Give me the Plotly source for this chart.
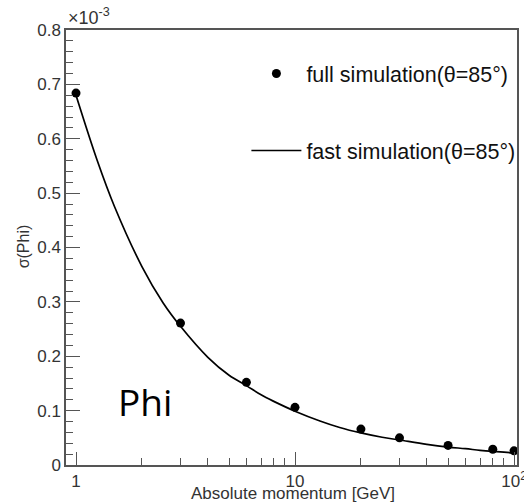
import plotly.graph_objects as go

# Full simulation points (sigma(Phi) in units of 1e-3)
full_p = [1, 3, 6, 10, 20, 30, 50, 80, 100]
full_sigma = [0.684, 0.261, 0.152, 0.106, 0.066, 0.050, 0.036, 0.029, 0.026]

# Fast simulation curve
fast_p = [1, 1.25, 1.5, 2, 2.5, 3, 4, 5, 6, 7, 8, 10, 13, 16, 20, 25, 30, 40, 50, 60, 70, 80, 90, 100]
fast_sigma = [0.680, 0.560, 0.475, 0.365, 0.298, 0.255, 0.198, 0.165, 0.146, 0.129, 0.117,
              0.099, 0.081, 0.069, 0.059, 0.051, 0.046, 0.038, 0.033, 0.030, 0.027, 0.025,
              0.0235, 0.022]

x_tickvals = [1, 10, 100]
x_ticktext = ["1", "10", "10<sup>2</sup>"]
x_minor = [2, 3, 4, 5, 6, 7, 8, 9, 20, 30, 40, 50, 60, 70, 80, 90]
y_tickvals = [0, 0.1, 0.2, 0.3, 0.4, 0.5, 0.6, 0.7, 0.8]
y_ticktext = ["0", "0.1", "0.2", "0.3", "0.4", "0.5", "0.6", "0.7", "0.8"]

FONT = "Liberation Sans, Arial, sans-serif"

fig = go.Figure()
fig.add_trace(go.Scatter(
    x=full_p, y=full_sigma, mode="markers",
    marker=dict(color="black", size=9),
    name="full simulation(θ=85°)", legendgroup="a"))
fig.add_trace(go.Scatter(
    x=fast_p, y=fast_sigma, mode="lines", line_shape="spline",
    line=dict(color="black", width=1.7),
    name="fast simulation(θ=85°)", legendgroup="b"))

fig.update_layout(
    width=524, height=503,
    margin=dict(l=66, r=7, t=30, b=38, autoexpand=False),
    paper_bgcolor="white", plot_bgcolor="white",
    font=dict(family=FONT, size=17, color="#333"),
    showlegend=True,
    legend=dict(x=0.40, y=0.947, xanchor="left", yanchor="top",
                font=dict(size=21.5, color="#111"),
                tracegroupgap=46, bgcolor="rgba(0,0,0,0)", itemwidth=50),
    xaxis=dict(type="log", range=[-0.0457, 2.0137], automargin=False,
               tickvals=x_tickvals, ticktext=x_ticktext, ticklabeloverflow="allow",
               ticks="inside", ticklen=13, tickcolor="#555", tickwidth=1.2,
               minor=dict(tickvals=x_minor, ticks="inside", ticklen=7, tickcolor="#555", tickwidth=1.2),
               showline=True, linecolor="#555", linewidth=1.5, mirror=True,
               showgrid=False, zeroline=False),
    yaxis=dict(range=[0, 0.8], automargin=False,
               tickvals=y_tickvals, ticktext=y_ticktext,
               ticks="inside", ticklen=14, tickcolor="#555", tickwidth=1.2,
               minor=dict(dtick=0.02, ticks="inside", ticklen=7, tickcolor="#555", tickwidth=1.2),
               showline=True, linecolor="#555", linewidth=1.5, mirror=True,
               showgrid=False, zeroline=False),
    annotations=[
        dict(text="×10<sup>-3</sup>", xref="paper", yref="paper", x=0, y=1,
             xanchor="left", yanchor="bottom", showarrow=False,
             font=dict(size=18, color="#333")),
        dict(text="σ(Phi)", xref="paper", yref="paper", x=-0.095, y=0.503,
             textangle=-90, xanchor="center", yanchor="middle", showarrow=False,
             font=dict(size=16, color="#333")),
        dict(text="Absolute momentum [GeV]", xref="paper", yref="paper", x=0.503, y=-0.066,
             xanchor="center", yanchor="middle", showarrow=False,
             font=dict(size=17, color="#333")),
        dict(text="Phi", xref="paper", yref="paper", x=0.175, y=0.147,
             xanchor="center", yanchor="middle", showarrow=False,
             font=dict(family="Open Sans, Noto Sans, sans-serif", size=37, color="black")),
    ],
)

fig.write_html("out.html")
